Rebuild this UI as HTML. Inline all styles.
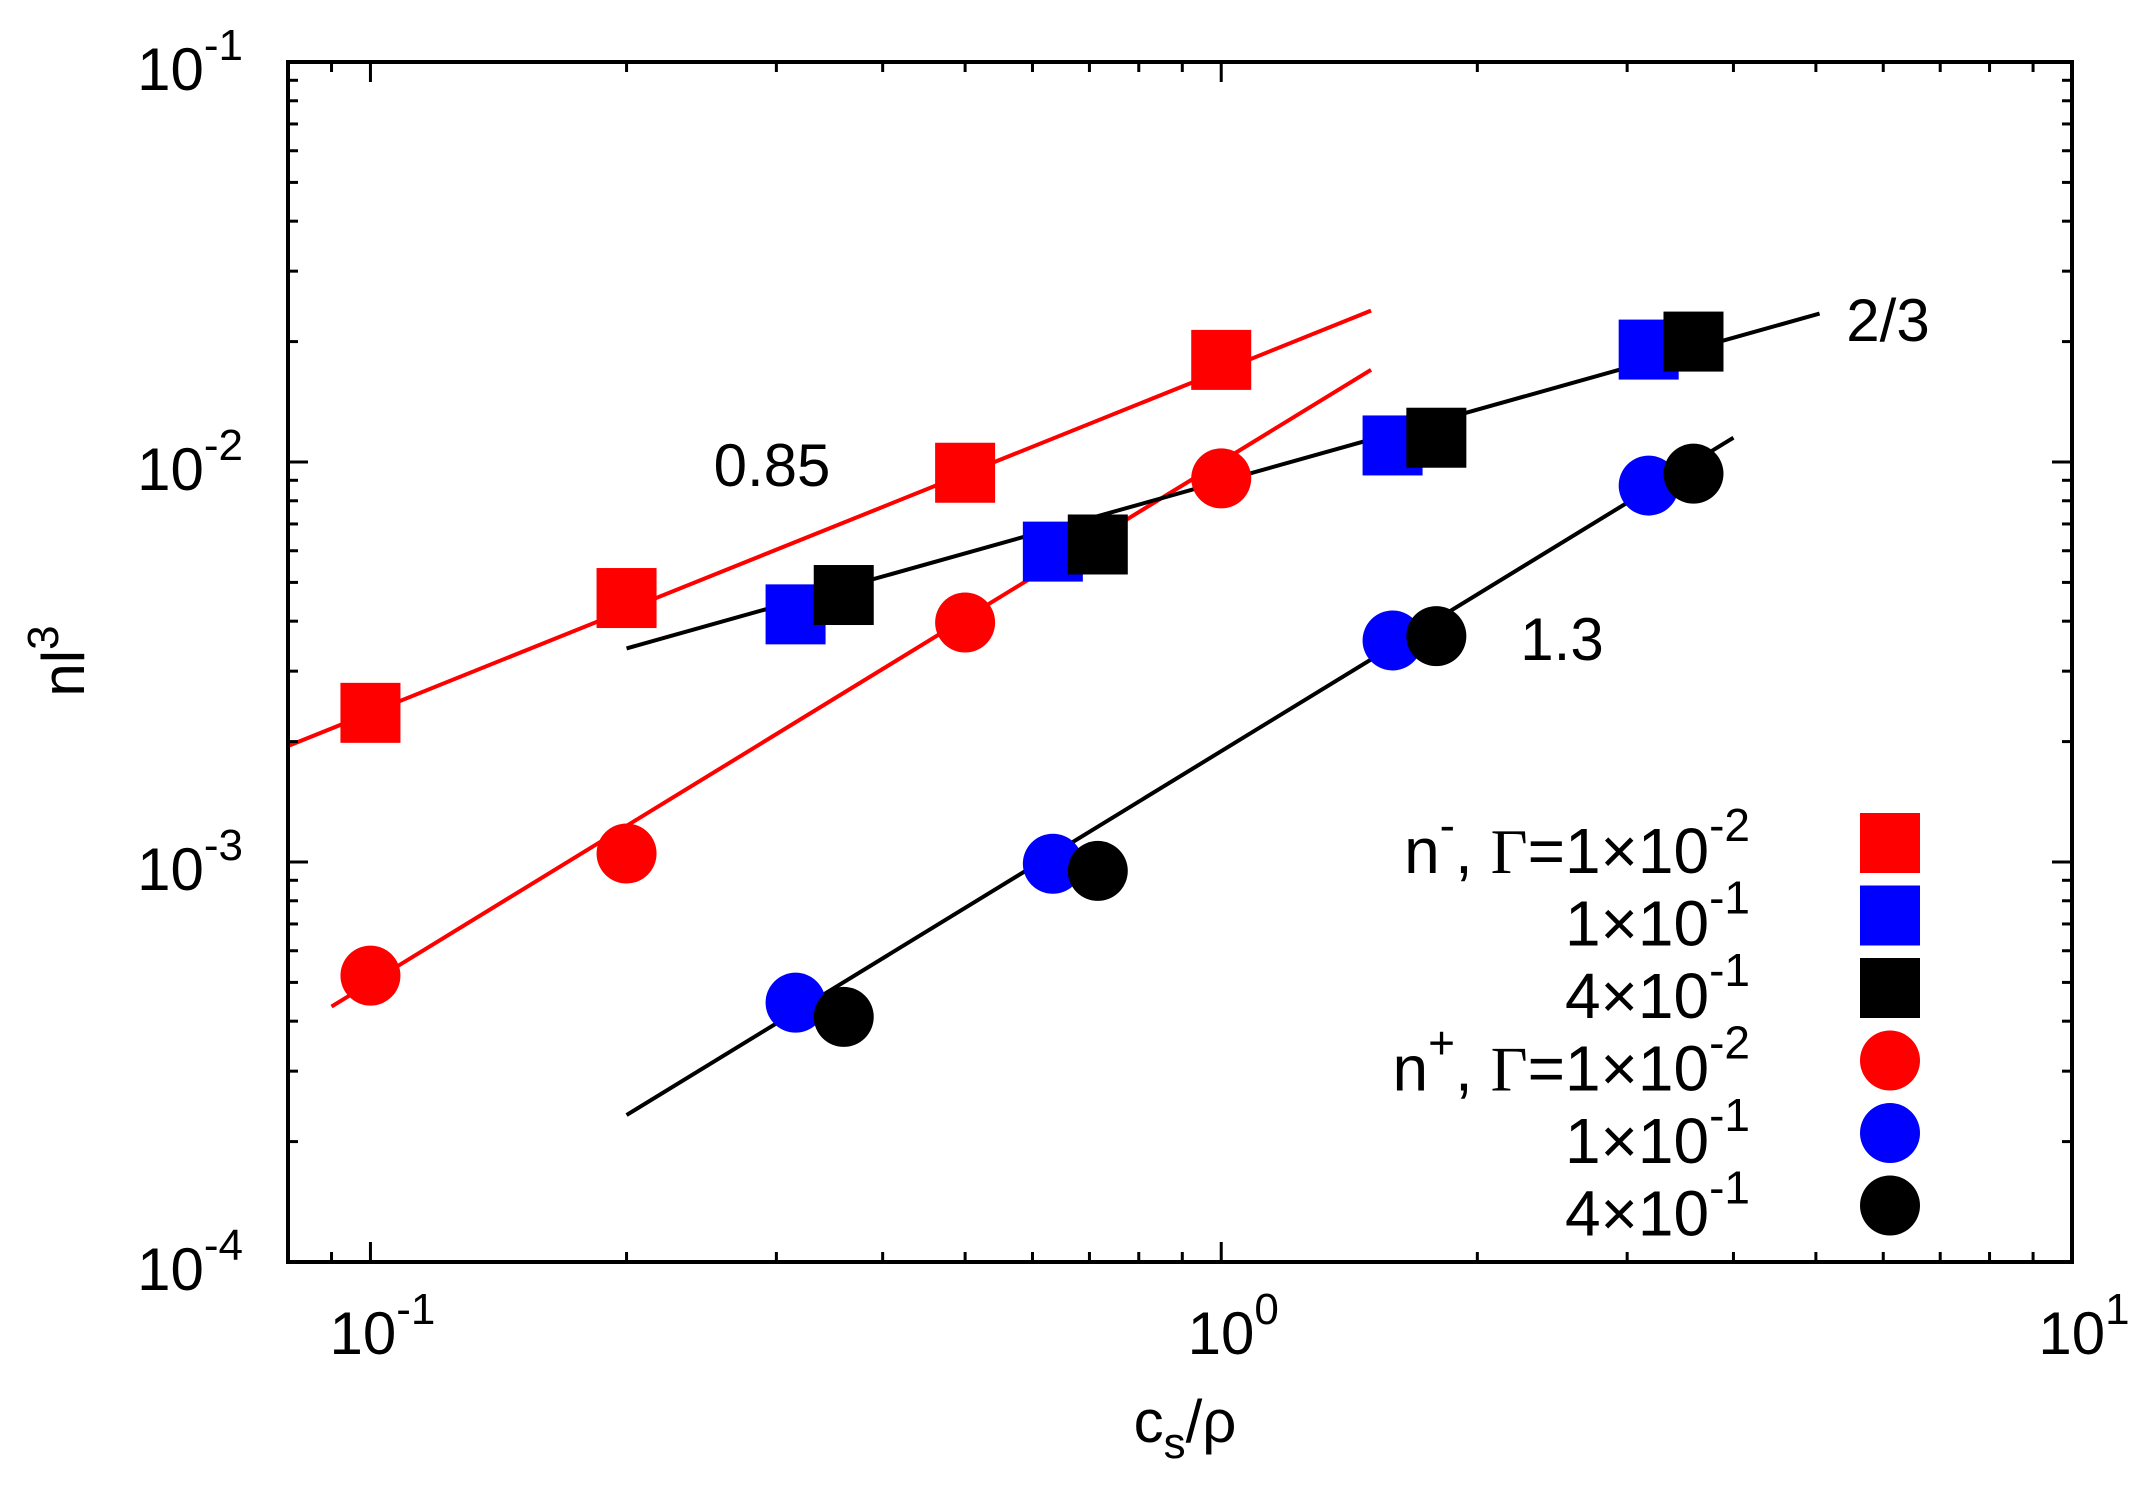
<!DOCTYPE html>
<html><head><meta charset="utf-8"><style>
html,body{margin:0;padding:0;background:#fff;}
svg{display:block;font-family:"Liberation Sans",sans-serif;}
</style></head><body>
<svg id="chart" width="2142" height="1485" viewBox="0 0 2142 1485">
<g id="marks"></g>
<g id="axes"></g>
<text x="772" y="486" font-size="60" text-anchor="middle">0.85</text>
<text x="1888" y="341" font-size="60" text-anchor="middle">2/3</text>
<text x="1562" y="660" font-size="60" text-anchor="middle">1.3</text>
<text transform="translate(84,661) rotate(-90)" font-size="60" text-anchor="middle">nl<tspan font-size="44" dy="-26">3</tspan></text>
<text x="1185" y="1442" font-size="60" text-anchor="middle">c<tspan font-size="44" dy="16">s</tspan><tspan dy="-16">/ρ</tspan></text>
<g id="legend"></g>
</svg>
<script>
const NS="http://www.w3.org/2000/svg";
const L=288,R=2072,T=62,B=1262;
const xMin=0.08,xMax=10,yMin=1e-4,yMax=1e-1;
function sx(v){return L+(Math.log10(v)-Math.log10(xMin))/(Math.log10(xMax)-Math.log10(xMin))*(R-L);}
function sy(v){return B-(Math.log10(v)-Math.log10(yMin))/(Math.log10(yMax)-Math.log10(yMin))*(B-T);}

const redSqX=[0.1,0.2,0.5,1.0];
const redSqY=[2.36e-3,4.57e-3,9.4e-3,1.8e-2];
const blueSqX=[0.316,0.634,1.59,3.18];
const blueSqY=[4.16e-3,5.97e-3,1.10e-2,1.91e-2];
const blackSqX=[0.36,0.716,1.79,3.59];
const blackSqY=[4.65e-3,6.22e-3,1.15e-2,2.0e-2];
const redCiX=[0.1,0.2,0.5,1.0];
const redCiY=[5.2e-4,1.05e-3,3.97e-3,9.1e-3];
const blueCiX=[0.316,0.634,1.59,3.18];
const blueCiY=[4.45e-4,9.9e-4,3.58e-3,8.73e-3];
const blackCiX=[0.36,0.716,1.79,3.59];
const blackCiY=[4.1e-4,9.5e-4,3.67e-3,9.35e-3];
const fitRedSqX=[0.08,1.5], fitRedSqY=[1.95e-3,2.39e-2];
const fitRedCiX=[0.09,1.5], fitRedCiY=[4.35e-4,1.70e-2];
const fitBlackSqX=[0.2,5.05], fitBlackSqY=[3.42e-3,2.35e-2];
const fitBlackCiX=[0.2,4.0], fitBlackCiY=[2.33e-4,1.15e-2];
const xTickVals=[0.1,1,10];
const xTickLabels=[["10","-1"],["10","0"],["10","1"]];
const yTickVals=[1e-1,1e-2,1e-3,1e-4];
const yTickLabels=[["10","-1"],["10","-2"],["10","-3"],["10","-4"]];

const marks=document.getElementById('marks');
function fit(xs,ys,color,name){
  const l=document.createElementNS(NS,'line');
  l.setAttribute('x1',sx(xs[0]));l.setAttribute('y1',sy(ys[0]));
  l.setAttribute('x2',sx(xs[1]));l.setAttribute('y2',sy(ys[1]));
  l.setAttribute('stroke',color);l.setAttribute('stroke-width','4');
  
  
  marks.appendChild(l);
}
fit(fitRedSqX,fitRedSqY,'#f00','fit-line-red-squares');
fit(fitRedCiX,fitRedCiY,'#f00','fit-line-red-circles');
fit(fitBlackSqX,fitBlackSqY,'#000','fit-line-squares-2-3');
fit(fitBlackCiX,fitBlackCiY,'#000','fit-line-circles-1-3');
function squares(xs,ys,color,name){
  xs.forEach((x,i)=>{
    const r=document.createElementNS(NS,'rect');
    r.setAttribute('x',sx(x)-30);r.setAttribute('y',sy(ys[i])-30);
    r.setAttribute('width',60);r.setAttribute('height',60);r.setAttribute('fill',color);
    
    
    marks.appendChild(r);
  });
}
function circles(xs,ys,color,name){
  xs.forEach((x,i)=>{
    const c=document.createElementNS(NS,'circle');
    c.setAttribute('cx',sx(x));c.setAttribute('cy',sy(ys[i]));c.setAttribute('r',30);c.setAttribute('fill',color);
    
    
    marks.appendChild(c);
  });
}
squares(redSqX,redSqY,'#f00','point-nminus-g1e-2');
circles(redCiX,redCiY,'#f00','point-nplus-g1e-2');
squares(blueSqX,blueSqY,'#00f','point-nminus-g1e-1');
circles(blueCiX,blueCiY,'#00f','point-nplus-g1e-1');
squares(blackSqX,blackSqY,'#000','point-nminus-g4e-1');
circles(blackCiX,blackCiY,'#000','point-nplus-g4e-1');

const axes=document.getElementById('axes');
function ln(x1,y1,x2,y2,w,name){
  const l=document.createElementNS(NS,'line');
  l.setAttribute('x1',x1);l.setAttribute('y1',y1);l.setAttribute('x2',x2);l.setAttribute('y2',y2);
  l.setAttribute('stroke','#000');l.setAttribute('stroke-width',w);
  
  
  axes.appendChild(l);
}
for(let d=-2;d<=1;d++){
  for(let m=1;m<=9;m++){
    const v=m*Math.pow(10,d);
    if(v<xMin-1e-9||v>xMax+1e-9)continue;
    const len=m===1?20:10;const x=sx(v);
    ln(x,B,x,B-len,3,'x-tick');ln(x,T,x,T+len,3,'x-tick-top');
  }
}
for(let d=-4;d<=-1;d++){
  for(let m=1;m<=9;m++){
    const v=m*Math.pow(10,d);
    if(v>yMax*1.0001)continue;
    const len=m===1?20:10;const y=sy(v);
    ln(L,y,L+len,y,3,'y-tick');ln(R,y,R-len,y,3,'y-tick-right');
  }
}
const frame=document.createElementNS(NS,'rect');
frame.setAttribute('x',L);frame.setAttribute('y',T);frame.setAttribute('width',R-L);frame.setAttribute('height',B-T);
frame.setAttribute('fill','none');frame.setAttribute('stroke','#000');frame.setAttribute('stroke-width',4);


axes.appendChild(frame);
function label(x,y,parts,anchor,name){
  const t=document.createElementNS(NS,'text');
  t.setAttribute('x',x);t.setAttribute('y',y);t.setAttribute('font-size',60);t.setAttribute('text-anchor',anchor);
  
  
  t.innerHTML=parts[0]+'<tspan font-size="44" dy="-30">'+parts[1]+'</tspan>';
  axes.appendChild(t);
}
xTickVals.forEach((v,i)=>label(sx(v)+12,1354,xTickLabels[i],'middle','x-tick-label'));
yTickVals.forEach((v,i)=>label(243,sy(v)+28,yTickLabels[i],'end','y-tick-label'));

const legLabels=[["n<tspan font-size='46' dy='-32'>-</tspan><tspan dy='32'>, </tspan><tspan font-family='Liberation Serif'>Γ</tspan>=1×10","-2"],["1×10","-1"],["4×10","-1"],["n<tspan font-size='46' dy='-32'>+</tspan><tspan dy='32'>, </tspan><tspan font-family='Liberation Serif'>Γ</tspan>=1×10","-2"],["1×10","-1"],["4×10","-1"]];
const legColors=['#f00','#00f','#000','#f00','#00f','#000'];
const legShapes=['sq','sq','sq','ci','ci','ci'];
const leg=document.getElementById('legend');
legLabels.forEach((p,i)=>{
  const cy=843+i*72.5;
  const t=document.createElementNS(NS,'text');
  t.setAttribute('x',1750);t.setAttribute('y',cy+30);t.setAttribute('font-size',64);t.setAttribute('text-anchor','end');
  t.innerHTML=p[0]+'<tspan font-size="46" dy="-32">'+p[1]+'</tspan>';
  
  
  leg.appendChild(t);
  let m;
  if(legShapes[i]==='sq'){m=document.createElementNS(NS,'rect');m.setAttribute('x',1860);m.setAttribute('y',cy-30);m.setAttribute('width',60);m.setAttribute('height',60);}
  else{m=document.createElementNS(NS,'circle');m.setAttribute('cx',1890);m.setAttribute('cy',cy);m.setAttribute('r',30);}
  m.setAttribute('fill',legColors[i]);
  
  
  leg.appendChild(m);
});
</script>
</body></html>
